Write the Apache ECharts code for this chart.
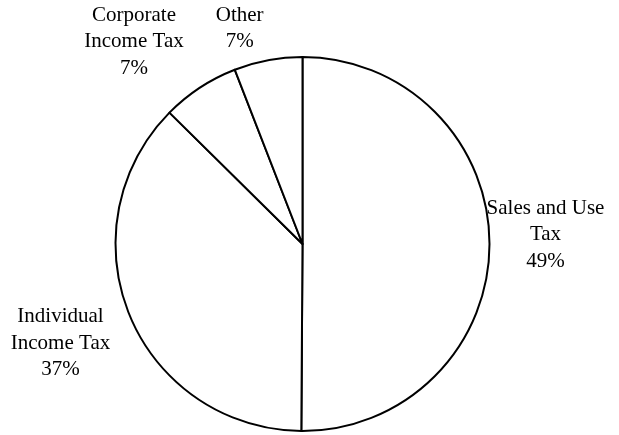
<!DOCTYPE html>
<html>
<head>
<meta charset="utf-8">
<script src="https://cdn.jsdelivr.net/npm/echarts@6/dist/echarts.min.js"></script>
<style>html,body{margin:0;padding:0;background:#fff;}#chart{width:619px;height:435px;}</style>
</head>
<body>
<div id="chart"></div>
<script>
var categories = ['Sales and Use\nTax', 'Individual\nIncome Tax', 'Corporate\nIncome Tax', 'Other'];
var shares = [50.1, 37.3, 6.7, 5.9];
var percentLabels = ['49%', '37%', '7%', '7%'];

var labelAnchors = [[545.5, 234.5], [60.5, 343.3], [134, 41.7], [239.7, 28.3]];

var chart = echarts.init(document.getElementById('chart'), null, {renderer: 'canvas'});
chart.setOption({
  animation: false,
  backgroundColor: '#ffffff',
  series: [{
    type: 'pie',
    center: [302.5, 244],
    radius: 187,
    startAngle: 90,
    clockwise: true,
    silent: true,
    emphasis: {disabled: true},
    itemStyle: {color: '#ffffff', borderColor: '#000000', borderWidth: 2},
    label: {
      show: true,
      position: 'outside',
      fontFamily: 'Liberation Serif',
      fontSize: 21,
      lineHeight: 26.5,
      color: '#000000',
      align: 'center',
      overflow: 'none',
      width: 200,
      formatter: function (p) { return categories[p.dataIndex] + '\n' + percentLabels[p.dataIndex]; }
    },
    labelLine: {show: false},
    labelLayout: function (params) {
      var a = labelAnchors[params.dataIndex];
      return {x: a[0], y: a[1], align: 'center', verticalAlign: 'middle', width: 200};
    },
    data: categories.map(function (c, i) { return {name: c, value: shares[i]}; })
  }]
});
</script>
</body>
</html>
